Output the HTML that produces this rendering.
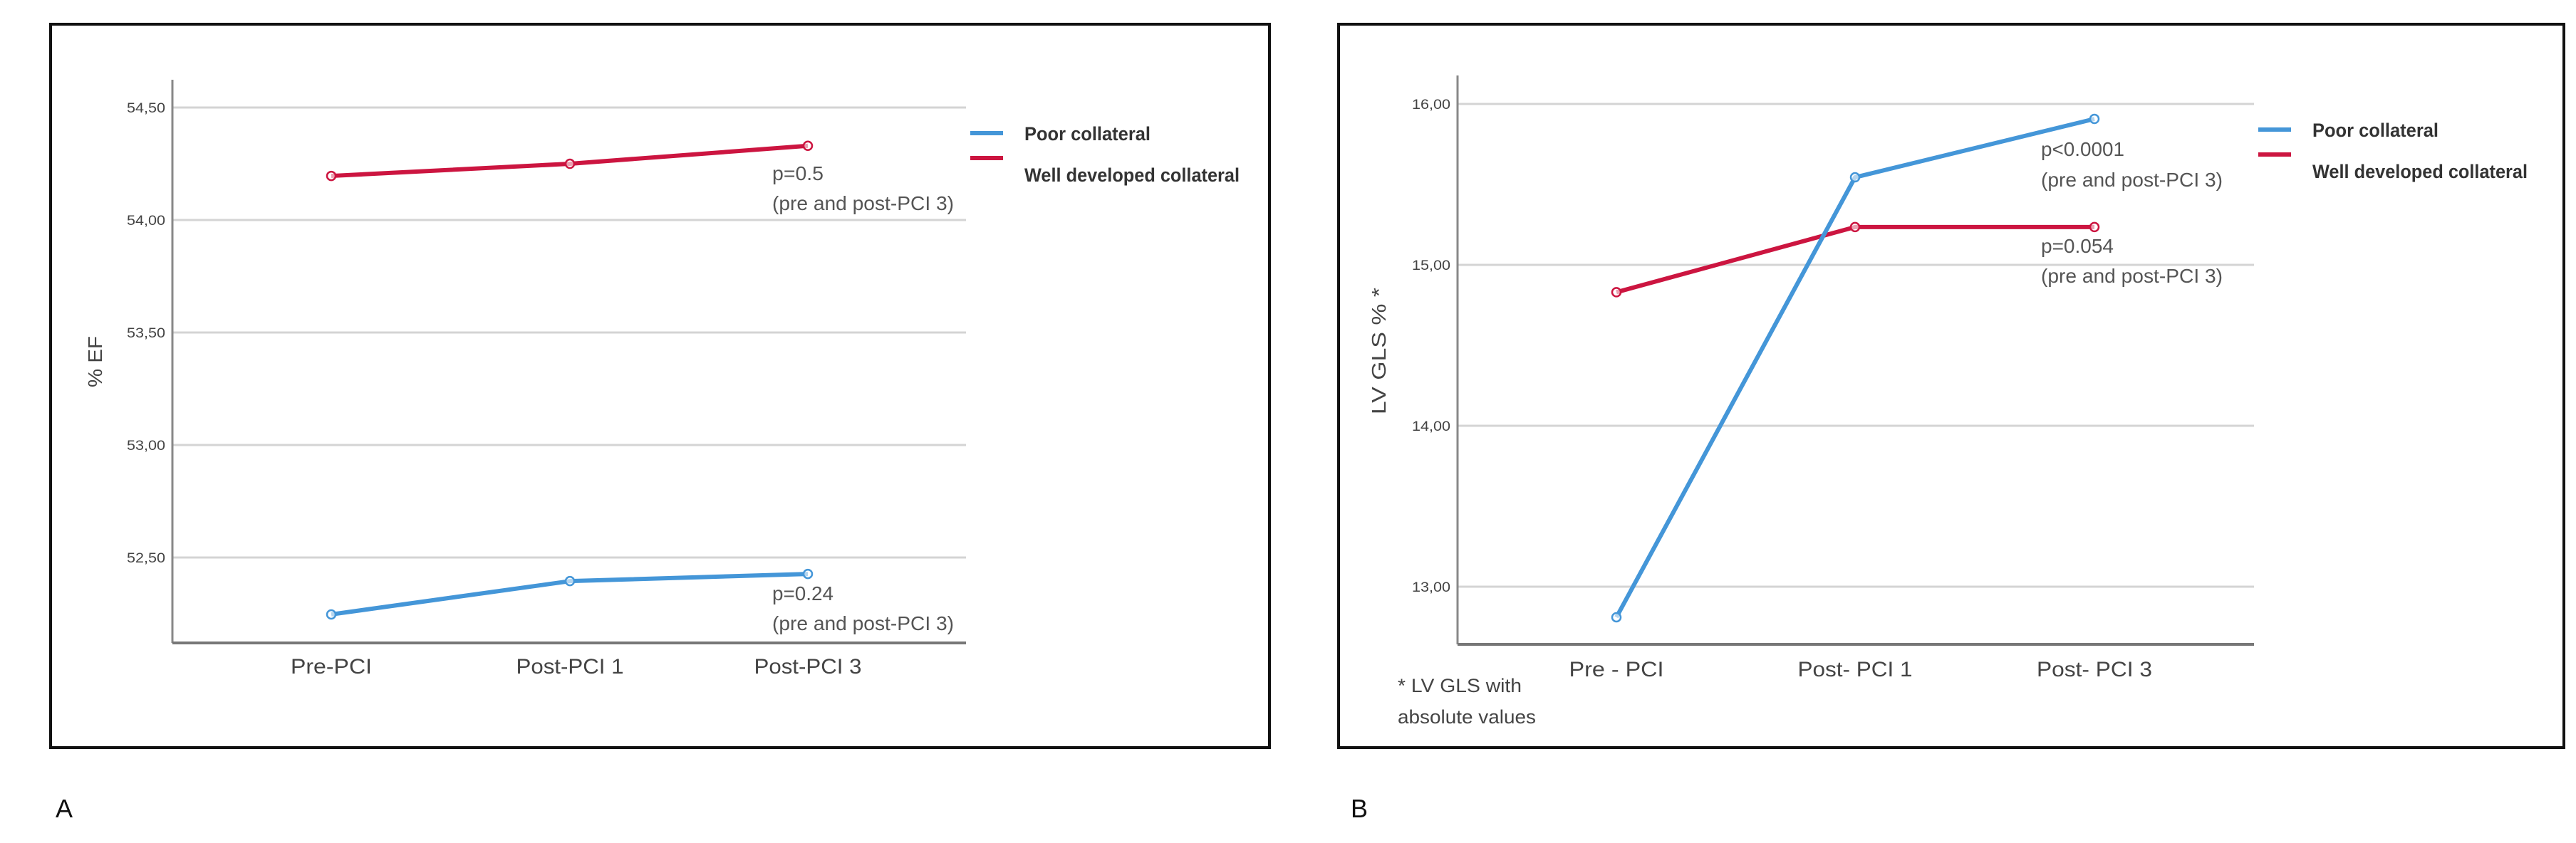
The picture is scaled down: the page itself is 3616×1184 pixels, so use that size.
<!DOCTYPE html>
<html><head><meta charset="utf-8"><style>
html,body{margin:0;padding:0;background:#fff;}
svg{display:block;font-family:"Liberation Sans",Arial,sans-serif;}
</style></head><body>
<svg id="fig" width="3616" height="1184" viewBox="0 0 3616 1184" xmlns="http://www.w3.org/2000/svg">
<rect x="0" y="0" width="3616" height="1184" fill="#fff"/>
<g id="panelA"></g>
<g id="panelB"></g>
</svg>
<script>
// Panel A data
const catsA = ["Pre-PCI", "Post-PCI 1", "Post-PCI 3"];
const poorA = [52.247, 52.395, 52.427];
const wellA = [54.196, 54.25, 54.33];
const ticksA = [52.5, 53.0, 53.5, 54.0, 54.5];
const tickLabelsA = ["52,50", "53,00", "53,50", "54,00", "54,50"];
// Panel B data
const catsB = ["Pre - PCI", "Post- PCI 1", "Post- PCI 3"];
const poorB = [12.81, 15.544, 15.907];
const wellB = [14.83, 15.235, 15.235];
const ticksB = [13, 14, 15, 16];
const tickLabelsB = ["13,00", "14,00", "15,00", "16,00"];

const NS = "http://www.w3.org/2000/svg";
const BLUE = "#4496d8", RED = "#cc1540";
function mk(parent, tag, attrs, text) {
  const e = document.createElementNS(NS, tag);
  for (const k in attrs) e.setAttribute(k, attrs[k]);
  if (text !== undefined) e.textContent = text;
  parent.appendChild(e);
  return e;
}

function drawPanel(g, cfg) {
  const o = cfg.ox;
  const yScale = v => cfg.refY + (cfg.refV - v) * cfg.ppu;
  const xScale = i => o + cfg.catX[i];
  // frame
  let e = mk(g, "rect", {x: o + cfg.box[0], y: 34, width: cfg.box[1], height: 1016, fill: "none", stroke: "#111", "stroke-width": 4});
  
  
  // gridlines + ticks
  cfg.ticks.forEach((t, i) => {
    const y = yScale(t);
    let l = mk(g, "line", {x1: o + cfg.axisX, x2: o + cfg.gridR, y1: y, y2: y, stroke: "#d4d4d4", "stroke-width": 3});
    
    
    let tx = mk(g, "text", {x: o + cfg.axisX - 10, y: y + 7, "font-size": 19, fill: "#444", "text-anchor": "end", textLength: 54, lengthAdjust: "spacingAndGlyphs"}, cfg.tickLabels[i]);
    
    
  });
  // axes
  e = mk(g, "line", {x1: o + cfg.axisX, x2: o + cfg.axisX, y1: cfg.axisTop, y2: cfg.baseY, stroke: "#888", "stroke-width": 3});
  
  
  e = mk(g, "line", {x1: o + cfg.axisX, x2: o + cfg.gridR, y1: cfg.baseY, y2: cfg.baseY, stroke: "#777", "stroke-width": 4});
  
  
  // category labels
  cfg.cats.forEach((c, i) => {
    let t = mk(g, "text", {x: xScale(i), y: cfg.catY, "font-size": 30, fill: "#444", "text-anchor": "middle", textLength: cfg.catW[i], lengthAdjust: "spacingAndGlyphs"}, c);
    
    
  });
  // series
  [[cfg.well, RED, "well-developed-collateral"], [cfg.poor, BLUE, "poor-collateral"]].forEach(([vals, col, nm]) => {
    const pts = vals.map((v, i) => xScale(i) + "," + yScale(v)).join(" ");
    let pl = mk(g, "polyline", {points: pts, fill: "none", stroke: col, "stroke-width": 6, "stroke-linejoin": "round"});
    
    
    vals.forEach((v, i) => {
      let c = mk(g, "circle", {cx: xScale(i), cy: yScale(v), r: 6, fill: "#fff", "fill-opacity": 0.6, stroke: col, "stroke-width": 2.5});
      
      
    });
  });
  // annotations
  cfg.notes.forEach(n => {
    let t = mk(g, "text", {x: o + cfg.noteX, y: n[1], "font-size": 28, fill: "#555", textLength: n[2], lengthAdjust: "spacingAndGlyphs"}, n[0]);
    
    
  });
  // legend
  const lx = o + cfg.legX;
  e = mk(g, "line", {x1: lx, x2: lx + 46, y1: cfg.legY[0], y2: cfg.legY[0], stroke: BLUE, "stroke-width": 6});
  
  
  e = mk(g, "line", {x1: lx, x2: lx + 46, y1: cfg.legY[1], y2: cfg.legY[1], stroke: RED, "stroke-width": 6});
  
  
  e = mk(g, "text", {x: lx + 76, y: cfg.legY[0] + 10, "font-size": 27, fill: "#333", "font-weight": "bold", textLength: 177, lengthAdjust: "spacingAndGlyphs"}, "Poor collateral");
  
  
  e = mk(g, "text", {x: lx + 76, y: cfg.legY[1] + 33, "font-size": 27, fill: "#333", "font-weight": "bold", textLength: 302, lengthAdjust: "spacingAndGlyphs"}, "Well developed collateral");
  
  
  // y title
  e = mk(g, "text", {x: 0, y: 0, "font-size": 28, fill: "#444", "text-anchor": "middle", textLength: cfg.titleW, lengthAdjust: "spacingAndGlyphs", transform: "translate(" + (o + cfg.titleX) + "," + cfg.titleY + ") rotate(-90)"}, cfg.title);
  
  
  // panel letter
  e = mk(g, "text", {x: o + cfg.letterX, y: 1148, "font-size": 36, fill: "#111"}, cfg.letter);
  
  
}

drawPanel(document.getElementById("panelA"), {
  ox: 0, box: [71, 1711], axisX: 242, gridR: 1356, axisTop: 112, baseY: 903,
  refY: 151, refV: 54.5, ppu: 316, catX: [465, 800, 1134], catY: 946, catW: [114, 151, 151],
  cats: catsA, poor: poorA, well: wellA, ticks: ticksA, tickLabels: tickLabelsA,
  noteX: 1084, notes: [["p=0.5", 253, 72], ["(pre and post-PCI 3)", 295, 255], ["p=0.24", 843, 86], ["(pre and post-PCI 3)", 885, 255]],
  legX: 1362, legY: [187, 222], title: "% EF", titleX: 143, titleY: 508, titleW: 72, letterX: 78, letter: "A"
});
drawPanel(document.getElementById("panelB"), {
  ox: 1808, box: [71, 1720], axisX: 238, gridR: 1356, axisTop: 106, baseY: 905,
  refY: 146, refV: 16, ppu: 226, catX: [461, 796, 1132], catY: 950, catW: [133, 161, 162],
  cats: catsB, poor: poorB, well: wellB, ticks: ticksB, tickLabels: tickLabelsB,
  noteX: 1057, notes: [["p<0.0001", 219, 117], ["(pre and post-PCI 3)", 262, 255], ["p=0.054", 355, 102], ["(pre and post-PCI 3)", 397, 255]],
  legX: 1362, legY: [182, 217], title: "LV GLS % *", titleX: 137, titleY: 493, titleW: 178, letterX: 88, letter: "B"
});
// footnote
const fn1 = mk(document.getElementById("panelB"), "text", {x: 1962, y: 972, "font-size": 27, fill: "#444", textLength: 174, lengthAdjust: "spacingAndGlyphs"}, "* LV GLS with");


const fn2 = mk(document.getElementById("panelB"), "text", {x: 1962, y: 1016, "font-size": 27, fill: "#444", textLength: 194, lengthAdjust: "spacingAndGlyphs"}, "absolute values");


</script>
</body></html>
